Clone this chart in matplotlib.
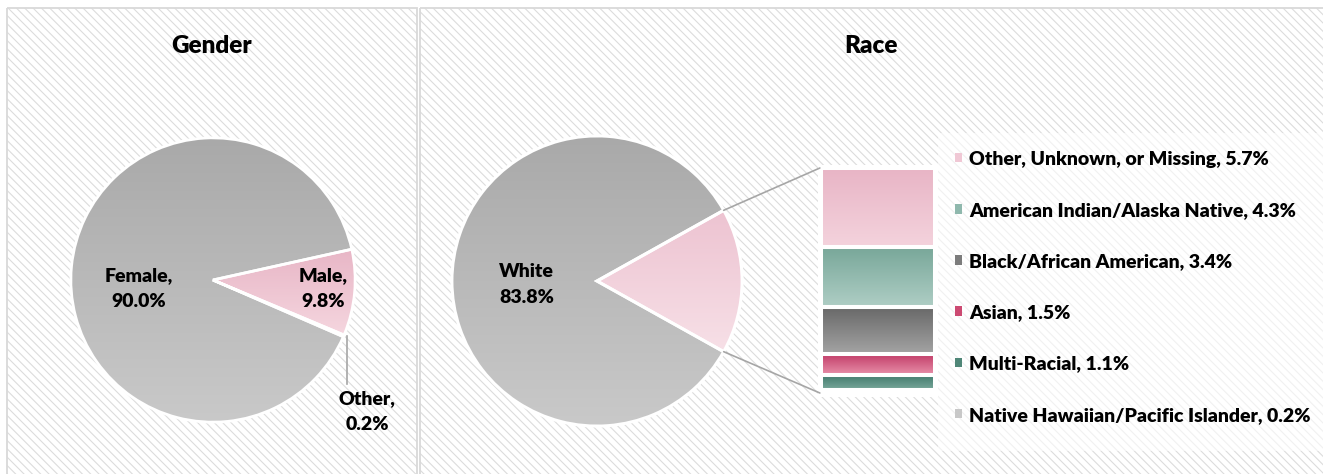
import numpy as np
import matplotlib
matplotlib.use('Agg')
import matplotlib.pyplot as plt
from matplotlib.patches import Rectangle, Patch, ConnectionPatch
from matplotlib.colors import LinearSegmentedColormap
from matplotlib.font_manager import FontProperties

# ---------------- data ----------------
gender_labels = ['Female', 'Male', 'Other']
gender_values = [90.0, 9.8, 0.2]

race_main_label = 'White'
race_main_value = 83.8

race_detail_labels = ['Other, Unknown, or Missing', 'American Indian/Alaska Native',
                      'Black/African American', 'Asian', 'Multi-Racial',
                      'Native Hawaiian/Pacific Islander']
race_detail_values = [5.7, 4.3, 3.4, 1.5, 1.1, 0.2]

# ---------------- styles ----------------
gender_top = ['#a9a9a9', '#e8b6c6', '#8a8a8a']
gender_bot = ['#c9c9c9', '#f5d6df', '#9a9a9a']
race_pie_top = ['#a9a9a9', '#edc3d1']
race_pie_bot = ['#c9c9c9', '#f7e0e7']
bar_top = ['#e8b4c5', '#78a799', '#676767', '#c23d68', '#3e7769', '#bdbdbd']
bar_bot = ['#f4d3dd', '#afcec5', '#a4a4a4', '#e890aa', '#7aa99c', '#dcdcdc']
legend_cols = ['#f0c8d5', '#8fb8ad', '#7c7c7c', '#cc4a72', '#4f8677', '#c8c8c8']
gender_label_xy = [(-0.52, -0.06), (0.775, -0.06)]

plt.rcParams['hatch.linewidth'] = 0.8
FAM = 'Lato'
bold = FontProperties(family=FAM, weight='heavy', size=14.0)
title_fp = FontProperties(family=FAM, weight='heavy', size=17.5)
TXT = '#000000'
LS = 1.65

W, H = 1323, 474
fig = plt.figure(figsize=(W / 100, H / 100), dpi=100)
fig.patch.set_facecolor('white')


def fig_rect(x, y_top, w, h):
    return [x / W, 1 - (y_top + h) / H, w / W, h / H]


def grad_fill(ax, patch, c_top, c_bot, extent, z):
    cmap = LinearSegmentedColormap.from_list('g', [c_bot, c_top])
    im = ax.imshow(np.linspace(0, 1, 256).reshape(-1, 1), cmap=cmap, extent=extent,
                   origin='lower', aspect='auto', zorder=z, interpolation='bilinear')
    im.set_clip_path(patch)
    return im


# ---------------- background ----------------
ax_bg = fig.add_axes([0, 0, 1, 1])
ax_bg.set_xlim(0, W)
ax_bg.set_ylim(H, 0)
ax_bg.axis('off')
for x0, x1 in [(7, 417), (419.5, 1345)]:
    ax_bg.add_patch(Rectangle((x0, 8), x1 - x0, 490, facecolor='white', edgecolor='#dcdcdc',
                              linewidth=0, hatch='\\\\\\\\', zorder=0))
    ax_bg.add_patch(Rectangle((x0, 8), x1 - x0, 490, facecolor='none', edgecolor='#d9d9d9',
                              linewidth=1.3, zorder=1))
# white area behind bar stack and legend
ax_bg.add_patch(Rectangle((818, 165), 120, 232, facecolor='white', edgecolor='none', zorder=2))
ax_bg.add_patch(Rectangle((938, 133), 400, 318, facecolor='white', edgecolor='none',
                          alpha=0.6, zorder=2))

ax_bg.text(212, 46, 'Gender', ha='center', va='center', fontproperties=title_fp, color=TXT)
ax_bg.text(871, 46, 'Race', ha='center', va='center', fontproperties=title_fp, color=TXT)

# ---------------- Gender pie ----------------
ax_g = fig.add_axes(fig_rect(213 - 145, 280 - 145, 290, 290))
male_top_edge = 12.5
g_start = male_top_edge + gender_values[0] / 100 * 360
wedges_g, _ = ax_g.pie(gender_values, startangle=g_start, counterclock=False, radius=1,
                       wedgeprops=dict(edgecolor='white', linewidth=2, facecolor='none', zorder=3),
                       frame=True)
for w, ct, cb in zip(wedges_g, gender_top, gender_bot):
    bb = w.get_path().get_extents()
    grad_fill(ax_g, w, ct, cb, (bb.x0, bb.x1, bb.y0, bb.y1), 2)
ax_g.set_xlim(-1.02, 1.02)
ax_g.set_ylim(-1.02, 1.02)
ax_g.axis('off')

for (lx, ly), lab, val in zip(gender_label_xy, gender_labels[:2], gender_values[:2]):
    ax_g.text(lx, ly, f'{lab},\n{val:.1f}%', ha='center', va='center',
              fontproperties=bold, linespacing=LS, zorder=5, color=TXT)
# "Other" label with vertical leader line
w = wedges_g[2]
mid = np.deg2rad((w.theta1 + w.theta2) / 2)
px, py = np.cos(mid) * 1.0, np.sin(mid) * 1.0
px += 0.025
ax_g.plot([px, px], [py, -0.73], color='#a6a6a6', lw=1.2, zorder=4, clip_on=False)
ax_g.text(1.085, -0.925, f'{gender_labels[2]},\n{gender_values[2]:.1f}%', ha='center', va='center',
          fontproperties=bold, linespacing=LS, zorder=5, color=TXT)

# ---------------- Race pie ----------------
race_other_total = sum(race_detail_values)
race_main = [race_main_value, race_other_total]
ax_r = fig.add_axes(fig_rect(597 - 148, 281 - 148, 296, 296))
r_start = -race_other_total / 100 * 180
wedges_r, _ = ax_r.pie(race_main, startangle=r_start, counterclock=False, radius=1,
                       wedgeprops=dict(edgecolor='white', linewidth=2.2, facecolor='none', zorder=3),
                       frame=True)
for w, ct, cb in zip(wedges_r, race_pie_top, race_pie_bot):
    bb = w.get_path().get_extents()
    grad_fill(ax_r, w, ct, cb, (bb.x0, bb.x1, bb.y0, bb.y1), 2)
ax_r.set_xlim(-1.02, 1.02)
ax_r.set_ylim(-1.02, 1.02)
ax_r.axis('off')
w = wedges_r[0]
mid = np.deg2rad((w.theta1 + w.theta2) / 2)
ax_r.text(0.486 * np.cos(mid), 0.486 * np.sin(mid) - 0.025, f'{race_main_label}\n{race_main_value:.1f}%',
          ha='center', va='center', fontproperties=bold, linespacing=LS, zorder=5, color=TXT)

# ---------------- bar of pie ----------------
ax_b = fig.add_axes(fig_rect(821, 168, 114, 225))
bottoms = np.concatenate([[0], np.cumsum(race_detail_values)[:-1]])
bars = ax_b.bar(0, race_detail_values, bottom=bottoms, width=1.0, facecolor='none',
                edgecolor='white', linewidth=2.9, zorder=3)
for rect, ct, cb in zip(bars, bar_top, bar_bot):
    bb = rect.get_bbox()
    grad_fill(ax_b, rect, ct, cb, (bb.x0, bb.x1, bb.y1, bb.y0), 2)
ax_b.set_xlim(-0.5, 0.5)
ax_b.set_ylim(race_other_total, 0)
ax_b.axis('off')

# connector lines
oth = wedges_r[1]
for ang, yb in [(oth.theta2, 1.0), (oth.theta1, 0.0)]:
    a = np.deg2rad(ang)
    con = ConnectionPatch(xyA=(np.cos(a), np.sin(a)), coordsA=ax_r.transData,
                          xyB=(-0.01, yb), coordsB=ax_b.transAxes,
                          color='#a6a6a6', lw=1.2, zorder=1)
    fig.add_artist(con)

# legend
handles = [Patch(facecolor=c, edgecolor='none') for c in legend_cols]
labels = [f'{l}, {v:.1f}%' for l, v in zip(race_detail_labels, race_detail_values)]
leg = ax_b.legend(handles, labels, loc='upper left', bbox_to_anchor=(955 / W, 1 - 150.5 / H),
                  bbox_transform=fig.transFigure, frameon=False, prop=bold,
                  handlelength=0.38, handleheight=0.38, handletextpad=0.36,
                  labelspacing=1.76, borderpad=0, borderaxespad=0)
for t in leg.get_texts():
    t.set_color(TXT)

fig.savefig('out.png', dpi=100, facecolor='white')
